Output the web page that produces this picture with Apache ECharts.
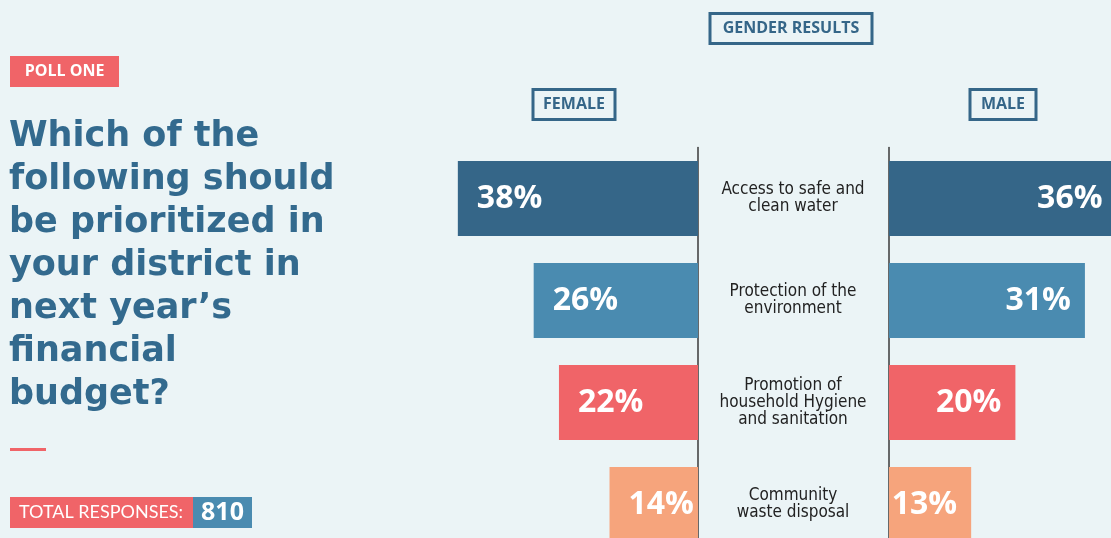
<!DOCTYPE html>
<html><head><meta charset="utf-8">
<script src="https://cdn.jsdelivr.net/npm/echarts@6/dist/echarts.min.js"></script>
<style>html,body{margin:0;padding:0;background:#ebf4f6;}#c{width:1111px;height:538px;}</style>
</head><body><div id="c"></div>
<script>
const categories = ["Access to safe and\nclean water", "Protection of the\nenvironment", "Promotion of\nhousehold Hygiene\nand sanitation", "Community\nwaste disposal"];
const female = [38, 26, 22, 14];
const male = [36, 31, 20, 13];
const barColors = ["#356688", "#4a8bb0", "#f06468", "#f6a47c"];
const titleLines = ["Which of the", "following should", "be prioritized in", "your district in", "next year\u2019s", "financial", "budget?"];
const totalResponses = "810";

const DARK = "#356688";
const SCALE_MAX = 40;
const PX_PER = 6.32;
const W = SCALE_MAX * PX_PER;

const chart = echarts.init(document.getElementById('c'), null, {renderer: 'canvas'});
const bold = '"Open Sans", "DejaVu Sans", sans-serif';
const heavy = '"DejaVu Sans", sans-serif';
const narrow = '"DejaVu Sans Condensed", "Liberation Sans Narrow", sans-serif';

const graphics = [];
graphics.push({type:'rect', shape:{x:10,y:56,width:109,height:31}, style:{fill:'#f06468'}});
graphics.push({type:'text', x:64.5, y:71.5, style:{text:'POLL ONE', fill:'#fff', font:'bold 16px '+bold, align:'center', verticalAlign:'middle'}});
titleLines.forEach((t,i)=>{
  graphics.push({type:'text', x:9, y:137+i*43, style:{text:t, fill:'#336a8e', font:'bold 35px '+heavy, verticalAlign:'middle'}});
});
graphics.push({type:'rect', shape:{x:10,y:448,width:36,height:3}, style:{fill:'#f06468'}});
graphics.push({type:'rect', shape:{x:10,y:497,width:183,height:31}, style:{fill:'#f06468'}});
graphics.push({type:'rect', shape:{x:193,y:497,width:59,height:31}, style:{fill:'#4a8bb0'}});
graphics.push({type:'text', x:19, y:512.5, style:{text:'TOTAL RESPONSES:', fill:'#fff', font:'18px "Lato", sans-serif', verticalAlign:'middle'}});
graphics.push({type:'text', x:222.5, y:512.5, style:{text:totalResponses, fill:'#fff', font:'bold 25px '+bold, align:'center', verticalAlign:'middle'}});
function box(x,y,w,h,t,fs){
  graphics.push({type:'rect', shape:{x:x,y:y,width:w,height:h}, style:{fill:'none', stroke:DARK, lineWidth:3}});
  graphics.push({type:'text', x:x+w/2, y:y+h/2, style:{text:t, fill:DARK, font:'bold '+fs+'px '+bold, align:'center', verticalAlign:'middle'}});
}
box(710,13.5,162,30,'GENDER RESULTS',16);
box(533,89.5,82,30,'FEMALE',16);
box(970,89.5,66,30,'MALE',16);

const option = {
  backgroundColor:'#ebf4f6',
  animation:false,
  graphic: graphics,
  grid:[
    {left:698-W, width:W, top:147.5, height:408, outerBoundsMode:'none', containLabel:false},
    {left:889, width:W, top:147.5, height:408, outerBoundsMode:'none', containLabel:false}
  ],
  xAxis:[
    {gridIndex:0, type:'value', min:0, max:SCALE_MAX, inverse:true, show:false},
    {gridIndex:1, type:'value', min:0, max:SCALE_MAX, show:false}
  ],
  yAxis:[
    {gridIndex:0, type:'category', data:categories, inverse:true, position:'right',
     axisLine:{show:true, lineStyle:{color:'#3a3a3a', width:1.5}}, axisTick:{show:false}, axisLabel:{show:false}},
    {gridIndex:1, type:'category', data:categories, inverse:true, position:'left',
     axisLine:{show:true, lineStyle:{color:'#3a3a3a', width:1.5}}, axisTick:{show:false},
     axisLabel:{show:true, align:'center', margin:96, color:'#222', fontSize:17, lineHeight:17,
       fontFamily:narrow}}
  ],
  series:[
    {type:'bar', xAxisIndex:0, yAxisIndex:0, data:female, barWidth:75,
     itemStyle:{color:(p)=>barColors[p.dataIndex]},
     label:{show:true, position:'insideLeft', distance:19, formatter:'{c}%', color:'#fff', fontSize:32, fontWeight:'bold', fontFamily:bold}},
    {type:'bar', xAxisIndex:1, yAxisIndex:1, data:male, barWidth:75,
     itemStyle:{color:(p)=>barColors[p.dataIndex]},
     label:{show:true, position:'insideRight', distance:14, formatter:'{c}%', color:'#fff', fontSize:32, fontWeight:'bold', fontFamily:bold}}
  ]
};
chart.setOption(option);
</script></body></html>
